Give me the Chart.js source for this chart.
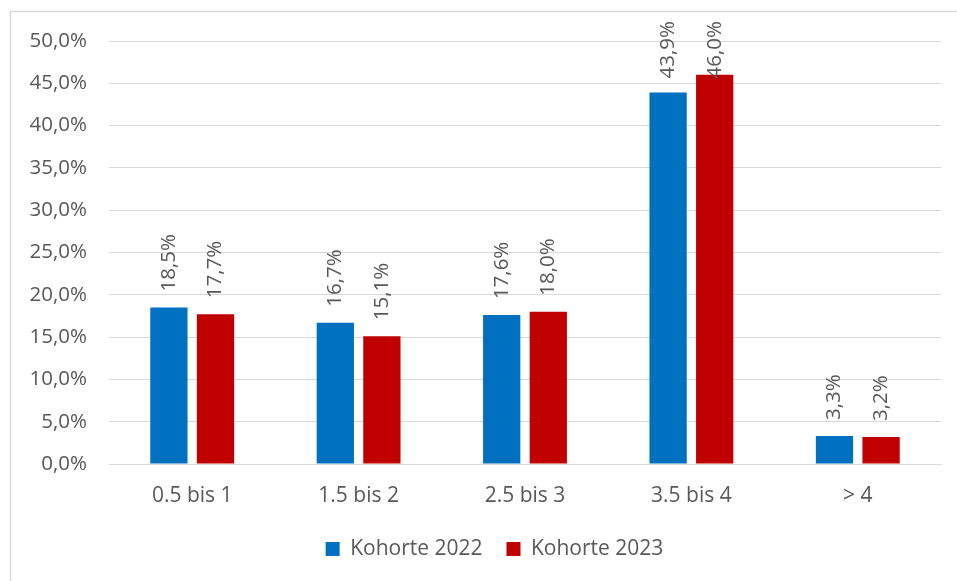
<!DOCTYPE html>
<html lang="de">
<head>
<meta charset="UTF-8">
<title>Kohorten</title>
<script src="https://cdn.jsdelivr.net/npm/chart.js@4/dist/chart.umd.min.js"></script>
<style>
  html, body { margin: 0; padding: 0; background: #fff; }
  #wrap { width: 957px; height: 581px; }
</style>
</head>
<body>
<div id="wrap"><canvas id="grafico" width="957" height="581"></canvas></div>
<script>
// daten
var kategorien = ['0.5 bis 1', '1.5 bis 2', '2.5 bis 3', '3.5 bis 4', '> 4'];
var kohorte2022 = [18.5, 16.7, 17.6, 43.9, 3.3];
var kohorte2023 = [17.7, 15.1, 18.0, 46.0, 3.2];
var yTicks = [0, 5, 10, 15, 20, 25, 30, 35, 40, 45, 50];

var schrift = "'Open Sans', 'Noto Sans', sans-serif";
var grau = '#595959';

function prozent(v) {
    return v.toFixed(1).replace('.', ',') + '%';
}

// rahmen um das diagramm
var rahmen = {
    id: 'rahmen',
    afterLayout: function (chart) {
        // legende etwas nach rechts wie im original
        chart.legend.left += 24;
        chart.legend.right += 24;
    },
    beforeDraw: function (chart) {
        var ctx = chart.ctx;
        ctx.save();
        ctx.strokeStyle = '#d9d9d9';
        ctx.lineWidth = 1.5;
        ctx.strokeRect(10.5, 11.5, 1200, 1200);
        ctx.restore();
    }
};

// senkrechte beschriftung ueber den balken
var beschriftung = {
    id: 'beschriftung',
    afterDatasetsDraw: function (chart) {
        var ctx = chart.ctx;
        ctx.save();
        ctx.font = '20.5px ' + schrift;
        ctx.fillStyle = grau;
        ctx.textAlign = 'left';
        ctx.textBaseline = 'middle';
        chart.data.datasets.forEach(function (ds, i) {
            chart.getDatasetMeta(i).data.forEach(function (bar, j) {
                var txt = prozent(ds.data[j]);
                var w = ctx.measureText(txt).width;
                var unten = bar.y - 16;
                var minOben = chart.chartArea.top - 20;
                if (unten - w < minOben) unten = minOben + w;
                ctx.save();
                ctx.translate(bar.x, unten);
                ctx.rotate(-Math.PI / 2);
                ctx.fillText(txt, 0, 0);
                ctx.restore();
            });
        });
        ctx.restore();
    }
};

var ctx = document.getElementById('grafico').getContext('2d');
var grafico = new Chart(ctx, {
    type: 'bar',
    data: {
        labels: kategorien,
        datasets: [{
            label: 'Kohorte 2022',
            data: kohorte2022,
            backgroundColor: '#0070C0'
        }, {
            label: 'Kohorte 2023',
            data: kohorte2023,
            backgroundColor: '#C00000'
        }]
    },
    options: {
        responsive: false,
        animation: false,
        devicePixelRatio: 1,
        categoryPercentage: 0.56,
        barPercentage: 0.8,
        layout: { padding: { top: 41, right: 16, bottom: 11.5, left: 0 } },
        plugins: {
            tooltip: { enabled: false },
            legend: {
                position: 'bottom',
                labels: {
                    boxWidth: 14,
                    boxHeight: 14,
                    padding: 24,
                    color: grau,
                    font: { family: schrift, size: 21 }
                }
            }
        },
        scales: {
            x: {
                afterFit: function (s) { s.height = 50.5; },
                grid: { display: false, drawTicks: false },
                border: { color: '#d9d9d9', width: 1 },
                ticks: {
                    padding: 19,
                    color: grau,
                    font: { family: schrift, size: 21 }
                }
            },
            y: {
                min: 0,
                max: 50,
                afterFit: function (s) { s.width = 109; },
                afterBuildTicks: function (s) {
                    s.ticks = yTicks.map(function (v) { return { value: v }; });
                },
                grid: { color: '#d9d9d9', lineWidth: 1, drawTicks: false },
                border: { display: false },
                ticks: {
                    padding: 22,
                    color: grau,
                    font: { family: schrift, size: 20.5 },
                    callback: function (v) { return prozent(v); }
                }
            }
        }
    },
    plugins: [rahmen, beschriftung]
});
</script>
</body>
</html>
